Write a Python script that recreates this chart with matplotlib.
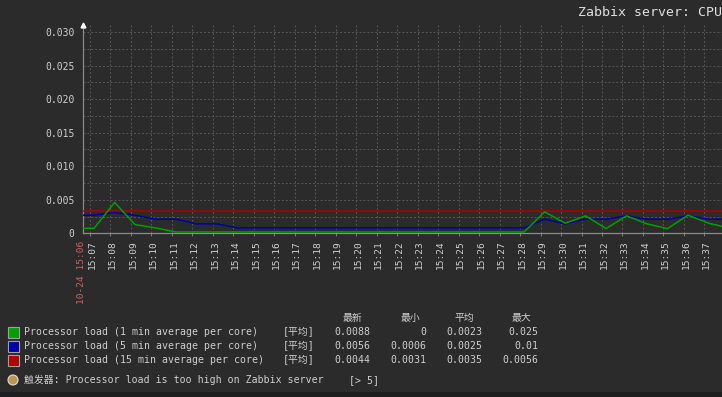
import matplotlib
matplotlib.use("Agg")
import matplotlib.pyplot as plt
import matplotlib.transforms as mtransforms
from matplotlib.patches import Rectangle, Circle

# sample times (hh:mm:ss) and load values
sample_times = [
    "15:06:12", "15:07:12", "15:08:12", "15:09:12", "15:10:12", "15:11:12",
    "15:12:12", "15:13:12", "15:14:12", "15:15:12", "15:16:12", "15:17:12",
    "15:18:12", "15:19:12", "15:20:12", "15:21:12", "15:22:12", "15:23:12",
    "15:24:12", "15:25:12", "15:26:12", "15:27:12", "15:28:12", "15:29:12",
    "15:30:12", "15:31:12", "15:32:12", "15:33:12", "15:34:12", "15:35:12",
    "15:36:12", "15:37:12", "15:38:12",
]
load_1min = [
    0.00075, 0.00075, 0.0046, 0.0013, 0.0008, 0.0002,
    0.0002, 0.0002, 0.0002, 0.0002, 0.0002, 0.0002,
    0.0002, 0.0002, 0.0002, 0.0002, 0.0002, 0.0002,
    0.0002, 0.0002, 0.0002, 0.0002, 0.0002, 0.0032,
    0.0015, 0.0026, 0.0007, 0.0026, 0.0014, 0.0007,
    0.0027, 0.0015, 0.0008,
]
load_5min = [
    0.0027, 0.0027, 0.0031, 0.0027, 0.0021, 0.0021,
    0.0014, 0.0014, 0.0008, 0.0008, 0.0008, 0.0008,
    0.0008, 0.0008, 0.0008, 0.0008, 0.0008, 0.0008,
    0.0008, 0.0008, 0.0008, 0.0008, 0.0008, 0.0021,
    0.0014, 0.0021, 0.0021, 0.0026, 0.0021, 0.0021,
    0.0026, 0.0021, 0.0021,
]
load_15min = [0.0033] * len(sample_times)

tick_minutes = list(range(7, 39))
tick_labels = [
    "15:07", "15:08", "15:09", "15:10", "15:11", "15:12", "15:13", "15:14",
    "15:15", "15:16", "15:17", "15:18", "15:19", "15:20", "15:21", "15:22",
    "15:23", "15:24", "15:25", "15:26", "15:27", "15:28", "15:29", "15:30",
    "15:31", "15:32", "15:33", "15:34", "15:35", "15:36", "15:37", "15:38",
]
start_label = "10-24 15:06"
y_ticks = [0, 0.005, 0.010, 0.015, 0.020, 0.025, 0.030]
y_tick_labels = ["0", "0.005", "0.010", "0.015", "0.020", "0.025", "0.030"]

series_names = [
    "Processor load (1 min average per core)",
    "Processor load (5 min average per core)",
    "Processor load (15 min average per core)",
]
series_colors = ["#00a000", "#0000a8", "#b00000"]
stat_headers = ["最新", "最小", "平均", "最大"]
stat_last = ["0.0088", "0.0056", "0.0044"]
stat_min = ["0", "0.0006", "0.0031"]
stat_avg = ["0.0023", "0.0025", "0.0035"]
stat_max = ["0.025", "0.01", "0.0056"]
trigger_text = "触发器: Processor load is too high on Zabbix server"
trigger_value = "[> 5]"
title = "Zabbix server: CPU load"

W, H = 722, 397
BG = "#2b2b2b"
TXT = "#cfcfcf"
plt.rcParams["font.family"] = ["DejaVu Sans Mono", "Noto Sans CJK SC"]


def fx(px):
    return px / W


def fy(py):
    return 1 - py / H


def to_minutes(t):
    h, m, s = (int(v) for v in t.split(":"))
    return (h - 15) * 60 + m + s / 60


x_left, x_right = 6.658, 38.6
px_per_min = 20.48
y_top = 0.031
ax_bottom_px, ax_top_px = 233.3, 25.3

fig = plt.figure(figsize=(W / 100, H / 100), dpi=100, facecolor=BG)
ax = fig.add_axes((
    fx(83), fy(ax_bottom_px),
    (x_right - x_left) * px_per_min / W, (ax_bottom_px - ax_top_px) / H,
))
ax.set_facecolor(BG)

xs = [to_minutes(t) for t in sample_times]
ax.plot(xs, load_15min, color=series_colors[2], lw=1.1, zorder=3)
ax.plot(xs, load_5min, color=series_colors[1], lw=1.1, zorder=4)
ax.plot(xs, load_1min, color=series_colors[0], lw=1.1, zorder=5)

ax.set_xlim(x_left, x_right)
ax.set_ylim(0, y_top)

ax.set_yticks(y_ticks)
ax.set_yticklabels(y_tick_labels)
ax.set_yticks([0.0025 * i for i in range(13)], minor=True)
ax.set_xticks(tick_minutes)
ax.set_xticklabels(tick_labels, rotation=90)

ax.grid(True, which="both", color="#575757", linestyle=(0, (2, 2)), lw=0.7)
ax.set_axisbelow(True)
ax.tick_params(axis="y", which="both", length=0, pad=6, labelsize=7, labelcolor=TXT)
ax.tick_params(axis="x", length=2, width=0.6, color="#8a8a8a", pad=3,
               labelsize=6.8, labelcolor=TXT)

# time labels sit a little right of their grid line, as in zabbix
shift = mtransforms.ScaledTranslation(2 / 100, 0, fig.dpi_scale_trans)
for lbl in ax.get_xticklabels():
    lbl.set_transform(lbl.get_transform() + shift)

for side in ("top", "right"):
    ax.spines[side].set_visible(False)
for side in ("left", "bottom"):
    ax.spines[side].set_color("#8a8a8a")
    ax.spines[side].set_linewidth(0.9)

# small arrow on top of the y axis
ax.plot([x_left], [y_top], marker="^", ms=3.5, color="white", clip_on=False, zorder=6)

# start time label in red
label_tr = mtransforms.offset_copy(ax.get_xaxis_transform(), fig=fig, x=-1.5, y=-7,
                                   units="dots")
ax.text(x_left, 0, start_label, transform=label_tr, rotation=90, ha="center",
        va="top", fontsize=6.8, color="#d46060")

fig.text(fx(578), fy(16), title, fontsize=9.5, color="#e0e0e0", va="baseline")

# legend table
fs = 7.1
header_x = [352, 410, 464, 521]
for hx, name in zip(header_x, stat_headers):
    fig.text(fx(hx), fy(317.5), name, fontsize=fs, color=TXT, ha="center", va="center",
             family="Noto Sans CJK SC")

row_y = [332, 346, 360]
col_right = [370, 426, 482, 538]
for i, yy in enumerate(row_y):
    fig.patches.append(Rectangle((fx(8), fy(yy + 5.5)), 11 / W, 11 / H,
                                 transform=fig.transFigure, facecolor=series_colors[i],
                                 edgecolor="#a0a0a0", lw=0.8))
    fig.text(fx(24), fy(yy), series_names[i], fontsize=fs, color=TXT, va="center")
    fig.text(fx(283), fy(yy), "[平均]", fontsize=fs, color=TXT, va="center")
    for cx, col in zip(col_right, (stat_last, stat_min, stat_avg, stat_max)):
        fig.text(fx(cx), fy(yy), col[i], fontsize=fs, color=TXT, va="center", ha="right")

# trigger marker, drawn in inches so it stays round
fig.patches.append(Circle((13 / 100, (H - 380) / 100), 5 / 100,
                          transform=fig.dpi_scale_trans,
                          facecolor="#b8965a", edgecolor="#e8dcc0", lw=0.8))
fig.text(fx(24), fy(380), trigger_text, fontsize=fs, color=TXT, va="center")
fig.text(fx(349), fy(380), trigger_value, fontsize=fs, color=TXT, va="center")

fig.patches.append(Rectangle((0, 0), 1, 5 / H, transform=fig.transFigure,
                             facecolor="#1e1e1e", edgecolor="none"))

fig.savefig("out.png", dpi=100, facecolor=BG)
